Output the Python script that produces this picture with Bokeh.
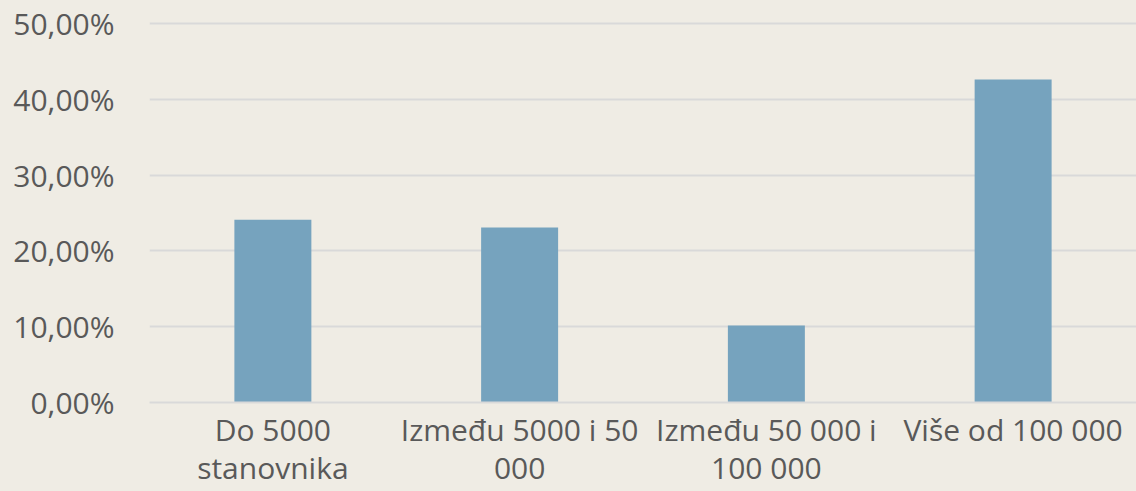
from bokeh.plotting import figure
from bokeh.models import Range1d, FixedTicker, ColumnDataSource
from bokeh.embed import file_html
from bokeh.resources import INLINE

categories = ["Do 5000\nstanovnika", "Između 5000 i 50\n000", "Između 50 000 i\n100 000", "Više od 100 000"]
values = [24.1, 23.1, 10.15, 42.6]
y_ticks = [0, 10, 20, 30, 40, 50]
y_tick_labels = ["0,00%", "10,00%", "20,00%", "30,00%", "40,00%", "50,00%"]

BG = "#EFECE4"
GRID = "#D9D9D9"
TXT = "#595959"
BAR = "#76A3BE"
FONT = "Open Sans"

xs = [i + 0.5 for i in range(len(categories))]
src = ColumnDataSource(dict(x=xs, top=values))

p = figure(width=1136, height=491, output_backend="svg", toolbar_location=None,
           x_range=Range1d(0, 4.0), y_range=Range1d(0, 51.45),
           min_border_left=149, min_border_right=0, min_border_top=12, min_border_bottom=89)
p.background_fill_color = BG
p.border_fill_color = BG
p.outline_line_color = None

p.vbar(x="x", top="top", width=0.312, bottom=0, source=src, fill_color=BAR, line_color=None)

p.xgrid.visible = False
p.ygrid.grid_line_color = GRID
p.ygrid.grid_line_width = 2
p.yaxis.ticker = FixedTicker(ticks=y_ticks)
p.yaxis.major_label_overrides = {t: l for t, l in zip(y_ticks, y_tick_labels)}
p.xaxis.ticker = FixedTicker(ticks=xs)
p.xaxis.major_label_overrides = {x: c for x, c in zip(xs, categories)}

for ax in (p.xaxis[0], p.yaxis[0]):
    ax.major_tick_line_color = None
    ax.minor_tick_line_color = None
    ax.major_label_text_font = FONT
    ax.major_label_text_font_size = "30px"
    ax.major_label_text_color = TXT
p.yaxis.axis_line_color = None
p.yaxis.major_label_standoff = 29
p.xaxis.axis_line_color = GRID
p.xaxis.axis_line_width = 2
p.xaxis.major_label_standoff = 0
p.xaxis.major_label_text_line_height = 0.95

html = file_html(p, INLINE)
html = html.replace("<head>", "<head><style>body{background:%s;}</style>" % BG, 1)
open("out.html", "w").write(html)
